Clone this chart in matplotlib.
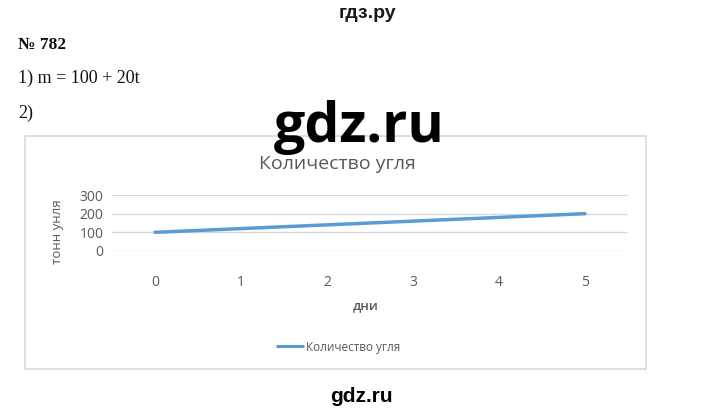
import numpy as np
import matplotlib.pyplot as plt
from matplotlib.patches import Rectangle

# chart data
days = ['0', '1', '2', '3', '4', '5']
coal = [100, 120, 140, 160, 180, 200]
y_ticks = [0, 100, 200, 300]

W, H = 720, 415


def fx(px):
    return px / W


def fy(py):
    return 1 - py / H


fig = plt.figure(figsize=(7.2, 4.15), dpi=100)
fig.patch.set_facecolor('white')

# header texts of the page
fig.text(fx(367), fy(13), 'гдз.ру', ha='center', va='center', fontsize=14,
         fontweight='bold', family='Liberation Sans', color='#1a1a1a')
fig.text(fx(18), fy(45), '№ 782', ha='left', va='center', fontsize=12.5,
         fontweight='bold', family='Liberation Serif', color='#111111')
fig.text(fx(18), fy(78), '1) m = 100 + 20t', ha='left', va='center', fontsize=13,
         family='Liberation Serif', color='#111111')
fig.text(fx(18), fy(113), '2)', ha='left', va='center', fontsize=13,
         family='Liberation Serif', color='#111111')

# chart frame
fig.patches.append(Rectangle((fx(25), fy(369)), fx(646) - fx(25), fy(136) - fy(369),
                             transform=fig.transFigure, facecolor='white',
                             edgecolor='#d9d9d9', linewidth=1.2, zorder=-5))

ax = fig.add_axes([fx(112), fy(251), fx(628) - fx(112), fy(195) - fy(251)])
ax.set_zorder(2)
x = np.arange(len(days))
ax.plot(x, coal, color='#5b9bd5', linewidth=2.5, solid_capstyle='round',
        label='Количество угля', zorder=3)
ax.set_xlim(-0.5, len(days) - 0.5)
ax.set_ylim(0, 300)
ax.set_yticks(y_ticks)
ax.set_xticks(x)
ax.set_xticklabels(days)
ax.grid(axis='y', color='#d9d9d9', linewidth=1)
ax.set_axisbelow(True)
for s in ax.spines.values():
    s.set_visible(False)
ax.tick_params(length=0, labelsize=10, labelcolor='#595959')
ax.tick_params(axis='x', pad=17)
ax.tick_params(axis='y', pad=6)
for lab in ax.get_xticklabels() + ax.get_yticklabels():
    lab.set_family('Open Sans')
ax.patch.set_alpha(0)

fig.text(fx(337), fy(164), 'Количество угля', ha='center', va='center',
         fontsize=14, family='Open Sans', color='#595959')
fig.text(fx(366), fy(306), 'дни', ha='center', va='center', fontsize=9.5,
         fontweight='semibold', family='Open Sans', color='#595959')
fig.text(fx(57), fy(232), 'тонн унля', ha='center', va='center', fontsize=9.5,
         family='Open Sans', color='#595959', rotation=90)

leg = fig.legend(loc='center', bbox_to_anchor=(fx(338), fy(347)), frameon=False,
                 handlelength=2.4, handletextpad=0.1,
                 prop={'family': 'Open Sans', 'size': 8.5})
for t in leg.get_texts():
    t.set_color('#595959')
for h in leg.get_lines():
    h.set_linewidth(2.2)
    h.set_solid_capstyle('butt')

# watermarks
wm = fig.text(fx(359), fy(142), 'gdz.ru', ha='center', va='baseline', fontsize=40,
              fontweight='bold', family='Open Sans', color='black')
wm.set_zorder(10)
fig.text(fx(361), fy(396), 'gdz.ru', ha='center', va='center', fontsize=15,
         fontweight='bold', family='Liberation Sans', color='black')

fig.savefig('out.png', dpi=100)
